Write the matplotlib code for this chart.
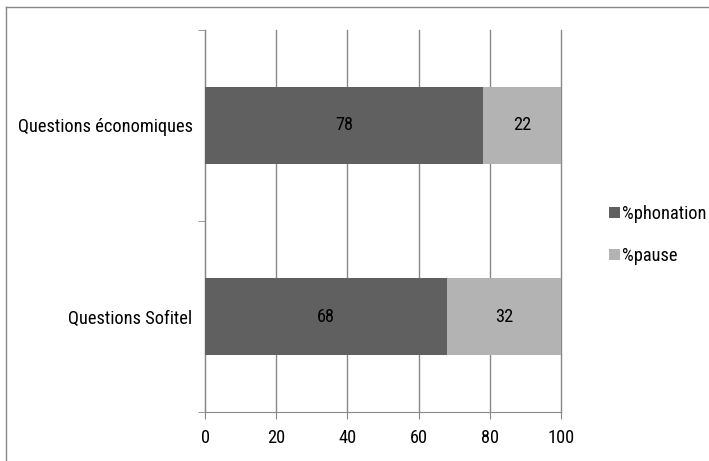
import matplotlib
matplotlib.use("Agg")
import matplotlib.pyplot as plt
from matplotlib.lines import Line2D
from matplotlib.patches import Patch
from matplotlib import font_manager as fm

categories = ["Questions Sofitel", "Questions économiques"]
phonation = [68, 78]
pause = [32, 22]
series_names = ["%phonation", "%pause"]
xticks = [0, 20, 40, 60, 80, 100]

names = set(f.name for f in fm.fontManager.ttflist)
fam = 'DejaVu Sans'
stretch = 'normal'
for cand in ['Liberation Sans Narrow', 'Roboto Condensed', 'Open Sans Condensed', 'DejaVu Sans Condensed']:
    if cand in names:
        fam = cand
        break
else:
    cond = [f for f in fm.fontManager.ttflist if f.name == 'DejaVu Sans' and f.stretch == 'condensed']
    if cond:
        stretch = 'condensed'
plt.rcParams['font.family'] = [fam, 'DejaVu Sans']
plt.rcParams['font.stretch'] = stretch

W, H = 709, 461
fig = plt.figure(figsize=(W/100, H/100), dpi=100)

# fit font size so the long label is ~174 px wide as in the reference
r = fig.canvas.get_renderer()
t = fig.text(0, 0, categories[1], fontsize=10)
w = t.get_window_extent(r).width
t.remove()
fs = min(14, 10 * 174 / w)

ax = fig.add_axes([205/W, 1-412/H, (561-205)/W, (412-30)/H])

dark = "#606060"
light = "#b3b3b3"
ypos = list(range(len(categories)))
bh = 0.4
b1 = ax.barh(ypos, phonation, height=bh, color=dark, zorder=3)
b2 = ax.barh(ypos, pause, left=phonation, height=bh, color=light, zorder=3)
for rect, v in zip(b1, phonation):
    ax.text(rect.get_x()+rect.get_width()/2, rect.get_y()+rect.get_height()/2, str(v),
            ha='center', va='center', fontsize=fs, color='black', zorder=4)
for rect, v in zip(b2, pause):
    ax.text(rect.get_x()+rect.get_width()/2, rect.get_y()+rect.get_height()/2, str(v),
            ha='center', va='center', fontsize=fs, color='black', zorder=4)

ax.set_xlim(0, 100)
ax.set_ylim(-0.5, len(categories)-0.5)
ax.set_xticks(xticks)
ax.set_xticklabels([str(t) for t in xticks], fontsize=fs)
ax.set_yticks(ypos)
ax.set_yticklabels(categories, fontsize=fs)
ax.tick_params(axis='y', length=0, pad=9)
ax.tick_params(axis='x', length=5, color='#888888', pad=7)
ax.set_yticks([-0.5, 0.5, 1.5], minor=True)
ax.tick_params(axis='y', which='minor', length=5, color='#888888', direction='out')
ax.grid(axis='x', color='#888888', linewidth=1, zorder=0)
for gl in ax.get_xgridlines():
    gl.set_clip_on(False)
for s in ['top', 'right']:
    ax.spines[s].set_visible(False)
for s in ['left', 'bottom']:
    ax.spines[s].set_color('#888888')

handles = [Patch(facecolor=dark, label=series_names[0]), Patch(facecolor=light, label=series_names[1])]
fig.legend(handles=handles, loc='center left', bbox_to_anchor=(592/W, 1-235/H), frameon=False,
           fontsize=fs, handlelength=0.6, handleheight=0.6, handletextpad=0.15, labelspacing=1.3)

# outer border
fig.add_artist(Line2D([6/W, 6/W], [0, 1-7/H], transform=fig.transFigure, color='#888888', linewidth=1))
fig.add_artist(Line2D([6/W, 1], [1-7/H, 1-7/H], transform=fig.transFigure, color='#888888', linewidth=1))

fig.savefig("out.png", dpi=100)
